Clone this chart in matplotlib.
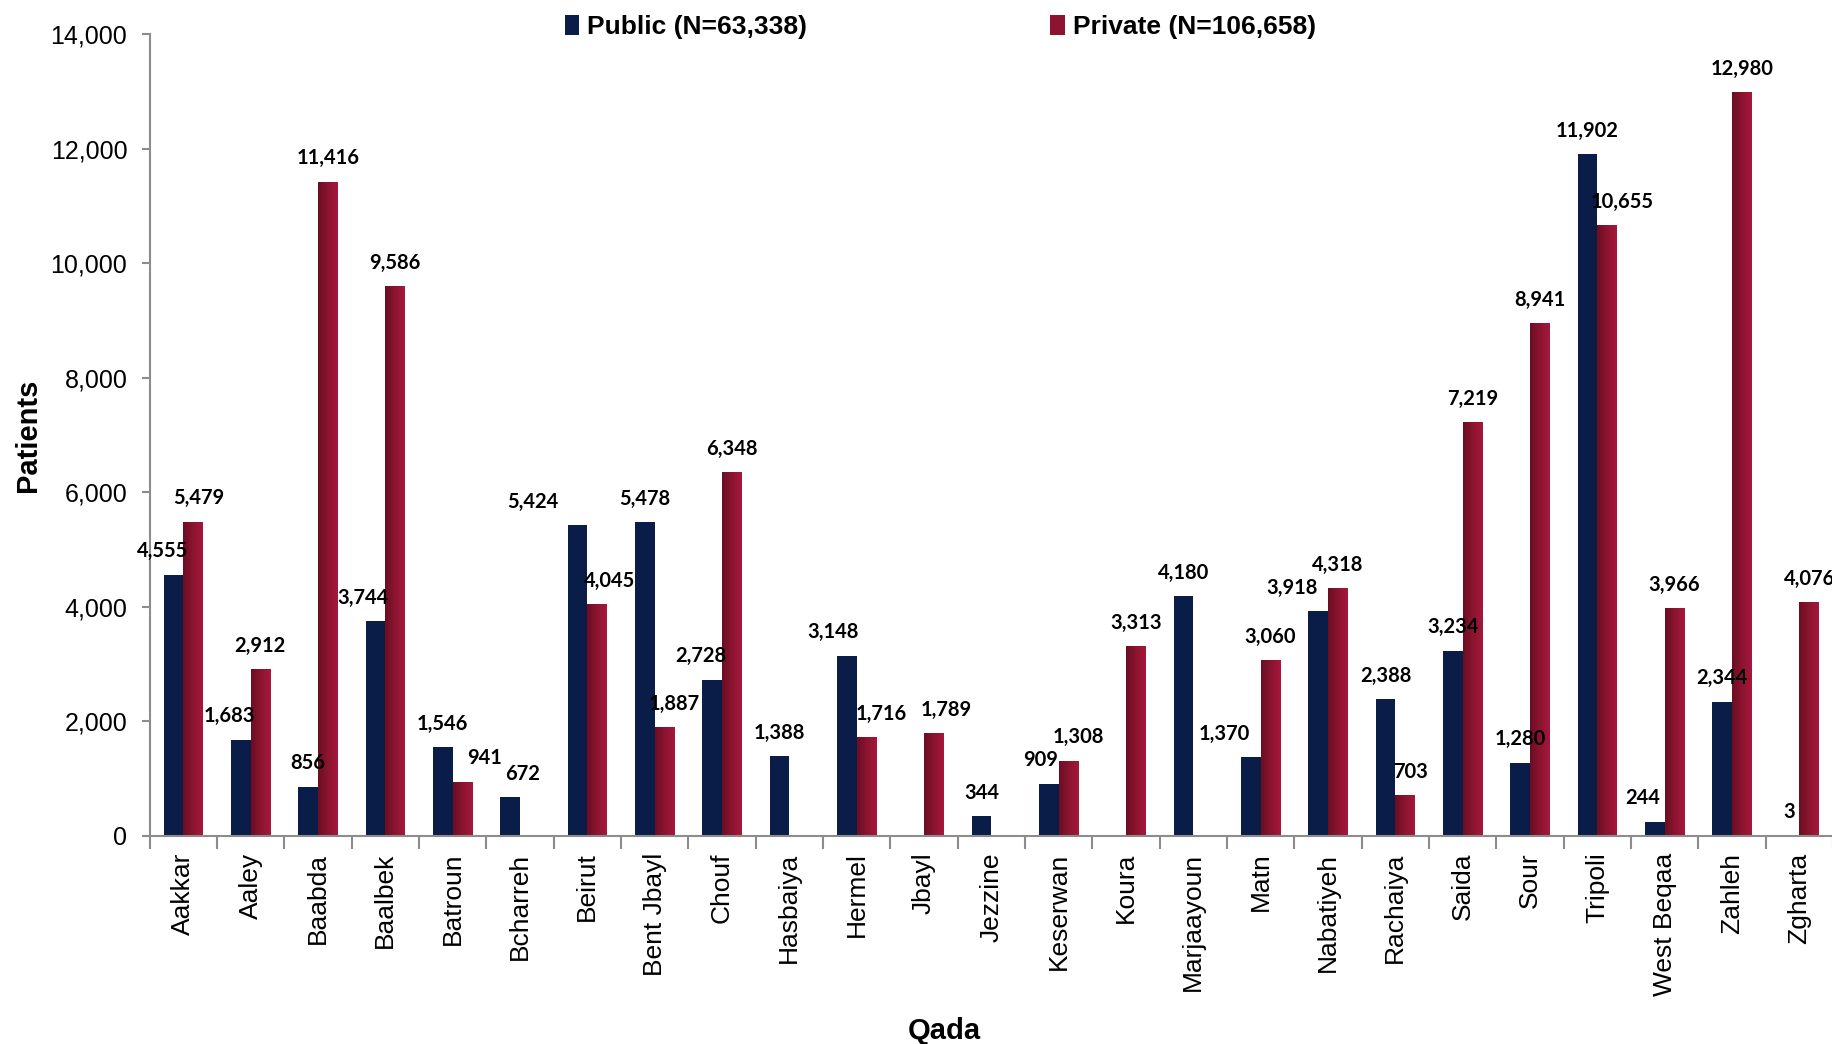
import numpy as np
import matplotlib
matplotlib.use("Agg")
import matplotlib.pyplot as plt
from matplotlib.colors import LinearSegmentedColormap
from matplotlib.ticker import FuncFormatter, FixedLocator

qadas = ["Aakkar", "Aaley", "Baabda", "Baalbek", "Batroun", "Bcharreh", "Beirut",
         "Bent Jbayl", "Chouf", "Hasbaiya", "Hermel", "Jbayl", "Jezzine", "Keserwan",
         "Koura", "Marjaayoun", "Matn", "Nabatiyeh", "Rachaiya", "Saida", "Sour",
         "Tripoli", "West Beqaa", "Zahleh", "Zgharta"]
public = [4555, 1683, 856, 3744, 1546, 672, 5424, 5478, 2728, 1388, 3148, 0, 344,
          909, 0, 4180, 1370, 3918, 2388, 3234, 1280, 11902, 244, 2344, 3]
private = [5479, 2912, 11416, 9586, 941, 0, 4045, 1887, 6348, 0, 1716, 1789, 0,
           1308, 3313, 0, 3060, 4318, 703, 7219, 8941, 10655, 3966, 12980, 4076]
y_ticks = [0, 2000, 4000, 6000, 8000, 10000, 12000, 14000]

# manual label nudges (points), like the hand-moved labels in the original
pub_nudge = {"Aakkar": -8, "Aaley": -8, "Baalbek": -9, "Bcharreh": 9, "Beirut": -32,
             "Chouf": -8, "Hermel": -10, "Keserwan": -6, "Matn": -19, "Nabatiyeh": -19,
             "West Beqaa": -9}
priv_nudge = {"Aakkar": 4, "Batroun": 16, "Beirut": 9, "Bent Jbayl": 7, "Hermel": 11,
              "Jbayl": 9, "Keserwan": 7, "Rachaiya": 4, "Tripoli": 11}

navy = "#0a1c48"
red_cmap = LinearSegmentedColormap.from_list("redgrad", ["#6a0e22", "#8c1431", "#a5173b"])

fig = plt.figure(figsize=(18.33, 10.44), dpi=100)
ax = fig.add_axes([0.0816, 0.1993, 0.9184, 0.7682])

x = np.arange(len(qadas))
w = 0.29
pub_bars = ax.bar(x - w / 2, public, w, color=navy, zorder=2, label="Public (N=63,338)")
priv_bars = ax.bar(x + w / 2, private, w, color="#8c1431", zorder=2, label="Private (N=106,658)")

# horizontal gradient on private bars
grad = np.linspace(0, 1, 64).reshape(1, -1)
for b in priv_bars:
    if b.get_height() > 0:
        x0 = b.get_x()
        ax.imshow(grad, extent=[x0, x0 + b.get_width(), 0, b.get_height()],
                  cmap=red_cmap, aspect="auto", zorder=2.1, interpolation="bilinear")
ax.set_xlim(-0.5, len(qadas) - 0.5)
ax.set_ylim(0, 14000)

lbl_font = dict(fontsize=14.5, fontweight="bold", family="Lato", color="black")
for i, q in enumerate(qadas):
    if public[i] > 0:
        ax.annotate(f"{public[i]:,}", (x[i] - w / 2, public[i]),
                    xytext=(pub_nudge.get(q, 0), 17), textcoords="offset points",
                    ha="center", va="center", zorder=4, **lbl_font)
    if private[i] > 0:
        ax.annotate(f"{private[i]:,}", (x[i] + w / 2, private[i]),
                    xytext=(priv_nudge.get(q, 0), 17), textcoords="offset points",
                    ha="center", va="center", zorder=4, **lbl_font)

for s in ["top", "right"]:
    ax.spines[s].set_visible(False)
for s in ["left", "bottom"]:
    ax.spines[s].set_color("#8c8c8c")
    ax.spines[s].set_linewidth(1.5)

ax.set_yticks(y_ticks)
ax.yaxis.set_major_formatter(FuncFormatter(lambda v, p: f"{int(v):,}"))
ax.tick_params(axis="y", labelsize=18, length=6, width=1.5, color="#8c8c8c", pad=10)
for t in ax.get_yticklabels():
    t.set_family("Liberation Sans")

ax.set_xticks(x)
ax.set_xticklabels(qadas, rotation=90, fontsize=19, family="Liberation Sans")
ax.tick_params(axis="x", which="major", length=0, pad=12)
ax.xaxis.set_minor_locator(FixedLocator(np.arange(-0.5, len(qadas), 1.0)))
ax.tick_params(axis="x", which="minor", length=9, width=1.5, color="#8c8c8c")

ax.set_ylabel("Patients", fontsize=21, fontweight="bold", family="Liberation Sans")
ax.yaxis.set_label_coords(-0.064, 0.5)
ax.set_xlabel("Qada", fontsize=21, fontweight="bold", family="Liberation Sans")
ax.xaxis.set_label_coords(0.472, -0.226)

leg = fig.legend(handles=[pub_bars, priv_bars], loc="center", bbox_to_anchor=(0.513, 0.974),
                 ncol=2, frameon=False, handlelength=0.55, handleheight=0.75,
                 handletextpad=0.3, columnspacing=9.2,
                 prop=dict(family="Liberation Sans", weight="bold", size=19))
leg.legend_handles[1].set_facecolor("#8c1431")

fig.savefig("out.png", dpi=100)
